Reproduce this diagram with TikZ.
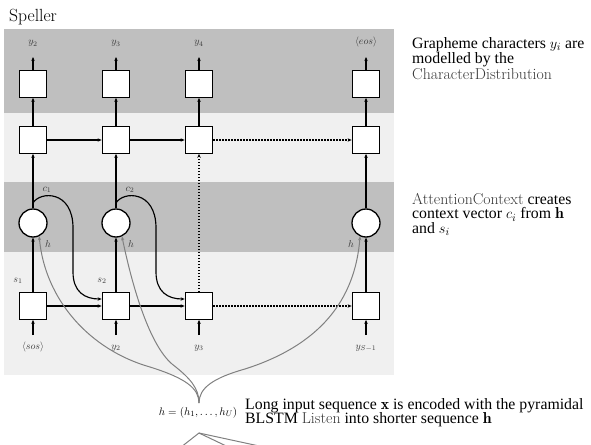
\documentclass[tikz,border=0pt]{standalone}
\usepackage{fontspec}
\newfontfamily\tnr{Liberation Serif}
\usetikzlibrary{arrows.meta}

\definecolor{banddark}{gray}{0.75}
\definecolor{bandlight}{gray}{0.94}
\definecolor{feedgray}{gray}{0.5}
\definecolor{labelgray}{gray}{0.22}

\begin{document}
\begin{tikzpicture}[x=1pt,y=-1pt,
  cell/.style={draw, line width=1.3pt, fill=white, minimum width=27.5pt, minimum height=26.5pt, inner sep=0pt},
  attn/.style={draw, line width=1.3pt, fill=white, circle, minimum size=28pt, inner sep=0pt},
  flow/.style={line width=1.15pt, -{Stealth[length=4pt,width=3.4pt]}},
  later/.style={flow, dash pattern=on 1.2pt off 1.8pt},
  feedh/.style={draw=feedgray, line width=1pt, -{Stealth[length=4pt,width=3.2pt]}},
  feedline/.style={draw=feedgray, line width=1pt},
  lbl/.style={inner sep=0pt, anchor=base, text=labelgray},
  note/.style={inner sep=0pt, align=left, anchor=north west}
]
\useasboundingbox (0,0) rectangle (591,444);
\clip (0,0) rectangle (591,444);

% layer bands
\fill[banddark]  (4,29)  rectangle (394,113);
\fill[bandlight] (4,113) rectangle (394,182);
\fill[banddark]  (4,182) rectangle (394,252);
\fill[bandlight] (4,252) rectangle (394,375);

\node[inner sep=0pt, anchor=base west, font=\fontsize{17.6}{20}\selectfont] (title) at (9,22) {Speller};

% output cells
\node[cell] (o1) at (33,84) {};
\node[cell] (o2) at (116,84) {};
\node[cell] (o3) at (199,84) {};
\node[cell] (o4) at (366,84) {};
% recurrent cells (upper)
\node[cell] (r1) at (33,140) {};
\node[cell] (r2) at (116,140) {};
\node[cell] (r3) at (199,140) {};
\node[cell] (r4) at (366,140) {};
% attention
\node[attn] (a1) at (33,223) {};
\node[attn] (a2) at (116,223) {};
\node[attn] (a4) at (366,223) {};
% recurrent cells (lower)
\node[cell] (b1) at (33,306) {};
\node[cell] (b2) at (116,306) {};
\node[cell] (b3) at (199,306) {};
\node[cell] (b4) at (366,306) {};

% outputs
\node[lbl] (y1) at (33,45) {$y_2$};
\node[lbl] (y2) at (116,45) {$y_3$};
\node[lbl] (y3) at (199,45) {$y_4$};
\node[lbl] (y4) at (366,45) {$\langle eos\rangle$};
\coordinate (t1) at (33,57);
\coordinate (t2) at (116,57);
\coordinate (t3) at (199,57);
\coordinate (t4) at (366,57);
\foreach \i in {1,2,3,4} \draw[flow] (o\i) -- (t\i);
\foreach \i in {1,2,3,4} \draw[flow] (r\i) -- (o\i);

% inputs
\node[lbl] (x1) at (33,349) {$\langle sos\rangle$};
\node[lbl] (x2) at (116,349) {$y_2$};
\node[lbl] (x3) at (199,349) {$y_3$};
\node[lbl] (x4) at (366,349) {$y_{S-1}$};
\coordinate (i1) at (33,335);
\coordinate (i2) at (116,335);
\coordinate (i3) at (199,335);
\coordinate (i4) at (366,335);
\foreach \i in {1,2,3,4} \draw[flow] (i\i) -- (b\i);

% vertical flow through attention
\draw[flow] (b1) -- (a1);
\draw[flow] (a1) -- (r1);
\draw[flow] (b2) -- (a2);
\draw[flow] (a2) -- (r2);
\draw[later] (b3) -- (r3);
\draw[flow] (b4) -- (a4);
\draw[flow] (a4) -- (r4);

% horizontal recurrences
\draw[flow] (r1) -- (r2);
\draw[flow] (r2) -- (r3);
\draw[later] (r3) -- (r4);
\draw[flow] (b1) -- (b2);
\draw[flow] (b2) -- (b3);
\draw[later] (b3) -- (b4);

% context vectors fed to the next step
\coordinate (k1) at (33,203);
\coordinate (k2) at (116,203);
\draw[flow] (k1) .. controls (40,191) and (73,190) .. (73,228) -- (73,272)
  .. controls (73,292) and (85,299) .. ([yshift=7pt]b2.west);
\draw[flow] (k2) .. controls (123,191) and (156,190) .. (156,228) -- (156,272)
  .. controls (156,292) and (168,299) .. ([yshift=7pt]b3.west);

\node[lbl] (c1) at (47,191) {$c_1$};
\node[lbl] (c2) at (130,191) {$c_2$};
\node[lbl] (s1) at (18,282) {$s_1$};
\node[lbl] (s2) at (102,282) {$s_2$};
\node[lbl] (h1) at (48,247) {$h$};
\node[lbl] (h2) at (131,247) {$h$};
\node[lbl] (h4) at (351,247) {$h$};

% listener features
\coordinate (hub) at (199,403);
\draw[feedh] (hub) .. controls (199,388) and (185,378) .. (150,367)
  .. controls (90,350) and (45,300) .. (a1.-65);
\draw[feedh] (hub) .. controls (199,388) and (190,378) .. (172,364)
  .. controls (150,345) and (133,290) .. (a2.-66);
\draw[feedh] (hub) .. controls (199,388) and (213,378) .. (245,369)
  .. controls (320,345) and (355,300) .. (a4.-114);

\node[lbl, text=black] (hseq) at (198,415) {\fontsize{11}{13}\selectfont$h=(h_1,\ldots,h_U)$};
\coordinate (root) at (199,433);
\coordinate (leg1) at (178.6,449);
\coordinate (leg2) at (232.5,449);
\coordinate (leg3) at (273,449);
\draw[feedline] (leg1) -- (root) -- (leg2);
\draw[feedline] (root) -- (leg3);

% explanations
\node[note, font={\tnr\fontsize{15.8}{14}\selectfont}] (noteA) at (412,37.5)
  {Grapheme characters $y_i$ are\\modelled by the\\{\rmfamily\color{labelgray}CharacterDistribution}};
\node[note, font={\tnr\fontsize{15.8}{14.5}\selectfont}] (noteB) at (412,193)
  {{\rmfamily\color{labelgray}AttentionContext} creates\\context vector $c_i$ from $\mathbf{h}$\\and $s_i$};
\node[note, font={\tnr\fontsize{15.8}{14.5}\selectfont}] (noteC) at (245,398)
  {Long input sequence $\mathbf{x}$ is encoded with the pyramidal\\BLSTM {\rmfamily\color{labelgray}Listen} into shorter sequence $\mathbf{h}$};
\end{tikzpicture}
\end{document}
